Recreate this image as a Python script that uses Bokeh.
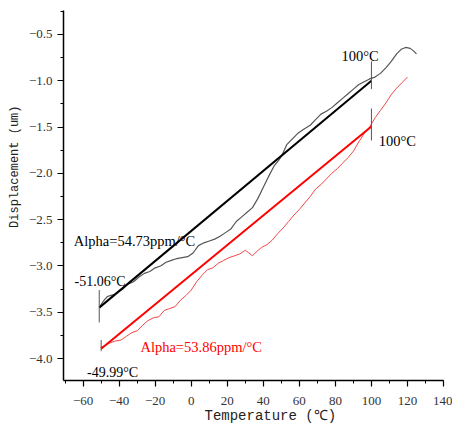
from bokeh.plotting import figure
from bokeh.models import Range1d, SingleIntervalTicker, CustomJSTickFormatter, Label
from bokeh.embed import file_html
from bokeh.resources import INLINE

# measured sample (gray) curve
gray_x = [-51.0, -49.5, -48.0, -46.5, -45.0, -43.0, -40.5, -38.0, -35.5, -32.0, -29.0, -26.0,
          -23.0, -20.0, -17.0, -14.0, -11.0, -8.0, -5.0, -2.0, 1.0, 4.0, 7.0, 10.0, 13.0, 16.0,
          19.0, 22.0, 25.0, 28.0, 31.0, 34.0, 37.0, 40.0, 43.0, 46.0, 48.5, 50.5, 53.0, 56.0,
          59.0, 62.0, 66.0, 69.0, 72.0, 75.0, 78.0, 81.0, 84.0, 87.0, 90.0, 93.0, 96.0, 99.0,
          102.0, 105.0, 108.0, 111.0, 114.0, 116.5, 119.0, 121.5, 123.5, 125.0]
gray_y = [-3.45, -3.40, -3.36, -3.33, -3.32, -3.31, -3.28, -3.25, -3.20, -3.17, -3.12, -3.08,
          -3.06, -3.02, -3.00, -2.96, -2.94, -2.92, -2.91, -2.90, -2.86, -2.78, -2.75, -2.73, -2.71, -2.68,
          -2.64, -2.60, -2.52, -2.47, -2.42, -2.37, -2.27, -2.15, -2.03, -1.92, -1.86, -1.80, -1.69, -1.63,
          -1.57, -1.53, -1.48, -1.42, -1.36, -1.33, -1.29, -1.24, -1.19, -1.14, -1.09, -1.04, -1.01, -0.98,
          -0.96, -0.92, -0.86, -0.79, -0.71, -0.66, -0.64, -0.65, -0.68, -0.71]

# measured sample (red) curve
red_x = [-50.4, -48.0, -45.0, -42.0, -39.0, -36.0, -33.0, -30.0, -27.0, -24.0, -21.0, -18.0,
         -15.0, -12.0, -9.0, -6.0, -3.0, 0.0, 3.0, 6.0, 9.0, 12.0, 15.0, 18.0, 21.0, 24.0, 27.0,
         30.0, 32.0, 34.0, 36.0, 39.0, 42.0, 45.0, 48.0, 51.0, 54.0, 57.0, 60.0, 63.0, 66.0, 69.0,
         72.0, 75.0, 78.0, 81.0, 84.0, 87.0, 90.0, 93.0, 96.0, 99.0, 102.0, 105.0, 108.0, 111.0,
         114.0, 117.0, 120.0]
red_y = [-3.88, -3.86, -3.83, -3.81, -3.80, -3.76, -3.72, -3.70, -3.64, -3.59, -3.56, -3.55,
         -3.48, -3.46, -3.44, -3.37, -3.32, -3.26, -3.17, -3.10, -3.04, -3.02, -2.97, -2.94, -2.91, -2.89, -2.87,
         -2.83, -2.86, -2.89, -2.85, -2.80, -2.77, -2.72, -2.65, -2.59, -2.52, -2.45, -2.39, -2.32, -2.25, -2.17,
         -2.12, -2.06, -2.00, -1.95, -1.89, -1.83, -1.76, -1.66, -1.57, -1.50, -1.40, -1.32, -1.24, -1.15,
         -1.08, -1.02, -0.96]

# linear fits
fit_black_x = [-51.06, 100.0]
fit_black_y = [-3.45, -1.0]
fit_red_x = [-49.99, 100.0]
fit_red_y = [-3.894, -1.494]

# temperature markers
mark_x = [-51.06, -49.99, 100.0, 100.0]
mark_y0 = [-3.26, -3.80, -0.79, -1.30]
mark_y1 = [-3.61, -3.92, -1.09, -1.645]

texts = ["100°C", "100°C", "-51.06°C", "-49.99°C", "Alpha=54.73ppm/°C", "Alpha=53.86ppm/°C"]
x_title = "Temperature (℃)"
y_title = "Displacement (um)"

NB = "\u00a0"

p = figure(width=452, height=430, output_backend="svg", toolbar_location=None,
           x_range=Range1d(-70.9, 140), y_range=Range1d(-4.237, -0.241),
           min_border_left=63, min_border_right=9, min_border_top=10, min_border_bottom=50)
p.xgrid.visible = False
p.ygrid.visible = False
p.outline_line_color = None
p.background_fill_color = "white"
p.border_fill_color = "white"

for ax, interval, digits in ((p.xaxis[0], 20, 0), (p.yaxis[0], 0.5, 1)):
    ax.ticker = SingleIntervalTicker(interval=interval, num_minor_ticks=2)
    ax.formatter = CustomJSTickFormatter(code=(
        "const s = Math.abs(tick).toFixed(%d); return (tick < -1e-9 ? '\u2212' : '') + s;" % digits))
    ax.axis_line_color = "black"
    ax.axis_line_width = 1.5
    ax.major_tick_line_color = "black"
    ax.major_tick_line_width = 1.2
    ax.minor_tick_line_color = "black"
    ax.major_tick_in = 0
    ax.major_tick_out = 6
    ax.minor_tick_in = 0
    ax.minor_tick_out = 3
    ax.major_label_text_font = "Liberation Serif"
    ax.major_label_text_font_size = "13px"
    ax.major_label_text_color = "#333333"
    ax.axis_label_text_font = "Liberation Mono"
    ax.axis_label_text_font_style = "normal"
    ax.axis_label_text_color = "#222222"

p.xaxis.major_label_standoff = 10
p.yaxis.major_label_standoff = 5

# axis titles (leading no-break spaces shift the centred title like in the reference)
p.xaxis.axis_label = NB * 4 + x_title
p.xaxis.axis_label_text_font_size = "14px"
p.xaxis.axis_label_standoff = 0
p.yaxis.axis_label = NB * 8 + y_title
p.yaxis.axis_label_text_font_size = "12px"
p.yaxis.axis_label_standoff = 4

p.line(gray_x, gray_y, line_color="#555555", line_width=1.2)
p.line(red_x, red_y, line_color="#f04848", line_width=1)
p.line(fit_black_x, fit_black_y, line_color="black", line_width=2)
p.line(fit_red_x, fit_red_y, line_color="#ff0000", line_width=2)
p.segment(x0=mark_x, y0=mark_y0, x1=mark_x, y1=mark_y1, line_color="#555555", line_width=1)

label_specs = [
    (texts[0], 104, -0.735, "right", "black", "14.5px"),
    (texts[1], 104, -1.652, "left", "black", "14.5px"),
    (texts[2], -64.8, -3.164, "left", "black", "14px"),
    (texts[3], -57.8, -4.153, "left", "black", "14px"),
    (texts[4], -65.2, -2.732, "left", "black", "14.5px"),
    (texts[5], -28.2, -3.877, "left", "#ff0000", "14.5px"),
]
for t, x, y, al, col, fs in label_specs:
    p.add_layout(Label(x=x, y=y, text=t, text_align=al, text_baseline="alphabetic",
                       text_font="Liberation Serif", text_font_size=fs, text_color=col))

open("out.html", "w").write(file_html(p, INLINE))
